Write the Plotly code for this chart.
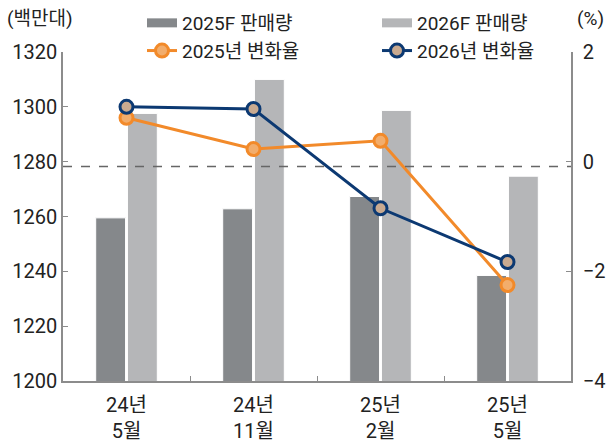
import plotly.graph_objects as go

categories = ["24년<br>5월", "24년<br>11월", "25년<br>2월", "25년<br>5월"]
sales_2025 = [1259.5, 1262.8, 1267.3, 1238.5]
sales_2026 = [1297.6, 1310.0, 1298.7, 1274.7]
chg_2025 = [0.80, 0.23, 0.38, -2.25]
chg_2026 = [1.00, 0.96, -0.85, -1.83]
ref_level = 1278.2
left_ticks = [1200, 1220, 1240, 1260, 1280, 1300, 1320]
right_ticks = [-4, -2, 0, 2]

FONT = "Roboto, 'Noto Sans CJK KR', sans-serif"
AX = "#8c8c8c"
C25 = "#85888b"
C26 = "#b5b6b8"

fig = go.Figure()
fig.add_trace(go.Bar(x=categories, y=sales_2025, name="2025F 판매량", showlegend=False,
                     marker=dict(color=C25, line=dict(color="#ffffff", width=1))))
fig.add_trace(go.Bar(x=categories, y=sales_2026, name="2026F 판매량", showlegend=False,
                     marker=dict(color=C26, line=dict(color="#ffffff", width=1))))
# legend keys for the bars (wide rectangles like the original)
fig.add_trace(go.Scatter(x=[None], y=[None], name="2025F 판매량", mode="lines",
                         line=dict(color=C25, width=9)))
fig.add_trace(go.Scatter(x=[None], y=[None], name="2026F 판매량", mode="lines",
                         line=dict(color=C26, width=9)))
fig.add_trace(go.Scatter(x=categories, y=chg_2025, name="2025년 변화율", yaxis="y2",
                         mode="lines+markers",
                         line=dict(color="#f28a2a", width=3),
                         marker=dict(size=13, color="#f2ad6c",
                                     line=dict(color="#f28a2a", width=3))))
fig.add_trace(go.Scatter(x=categories, y=chg_2026, name="2026년 변화율", yaxis="y2",
                         mode="lines+markers",
                         line=dict(color="#0c3972", width=3),
                         marker=dict(size=13, color="#c9aa90",
                                     line=dict(color="#0c3972", width=3))))

fig.add_shape(type="line", xref="paper", yref="y", x0=0, x1=1, y0=ref_level, y1=ref_level,
              line=dict(color="#666666", width=1.5, dash="dash"), layer="above")

fig.update_layout(
    width=606, height=445,
    margin=dict(l=63, r=35, t=52, b=64, autoexpand=False),
    paper_bgcolor="white", plot_bgcolor="white",
    font=dict(family=FONT, size=19, color="#222222"),
    barmode="group", bargap=0.5, bargroupgap=0.06,
    showlegend=True,
    legend=dict(orientation="h", xref="container", yref="container",
                x=142 / 606, xanchor="left", y=1 - 4 / 445, yanchor="top",
                entrywidth=190, entrywidthmode="pixels",
                font=dict(family=FONT, size=19, color="#222222"),
                bgcolor="rgba(0,0,0,0)", tracegroupgap=0),
    xaxis=dict(type="category", showline=True, linecolor=AX, linewidth=1.5,
               ticks="inside", tickson="boundaries", ticklen=5, tickcolor=AX,
               showgrid=False, range=[-0.5, 3.5], automargin=False,
               ticklabelstandoff=5,
               tickfont=dict(family=FONT, size=20, color="#222222")),
    yaxis=dict(range=[1200, 1320], tickvals=left_ticks, showgrid=False,
               showline=True, linecolor=AX, linewidth=1.5, automargin=False,
               ticks="inside", ticklen=5, tickcolor=AX, zeroline=False,
               tickfont=dict(family=FONT, size=20, color="#222222")),
    yaxis2=dict(range=[-4, 2], tickvals=right_ticks, ticktext=["−4", "−2", "0", "2"],
                overlaying="y", side="right", showgrid=False, automargin=False,
                showline=True, linecolor=AX, linewidth=1.5,
                ticks="inside", ticklen=5, tickcolor=AX, zeroline=False,
                ticklabelstandoff=6,
                tickfont=dict(family=FONT, size=20, color="#222222")),
    annotations=[
        dict(text="(백만대)", xref="paper", yref="paper", x=-58 / 508, y=1 + 33 / 329,
             xanchor="left", yanchor="middle", showarrow=False,
             font=dict(family=FONT, size=19, color="#222222")),
        dict(text="(%)", xref="paper", yref="paper", x=1 + 35 / 508, y=1 + 33 / 329,
             xanchor="right", yanchor="middle", showarrow=False,
             font=dict(family=FONT, size=19, color="#222222")),
    ],
)

fig.write_html("out.html", config={"displayModeBar": False},
               post_script="document.body.style.margin='0';document.body.style.padding='0';")
